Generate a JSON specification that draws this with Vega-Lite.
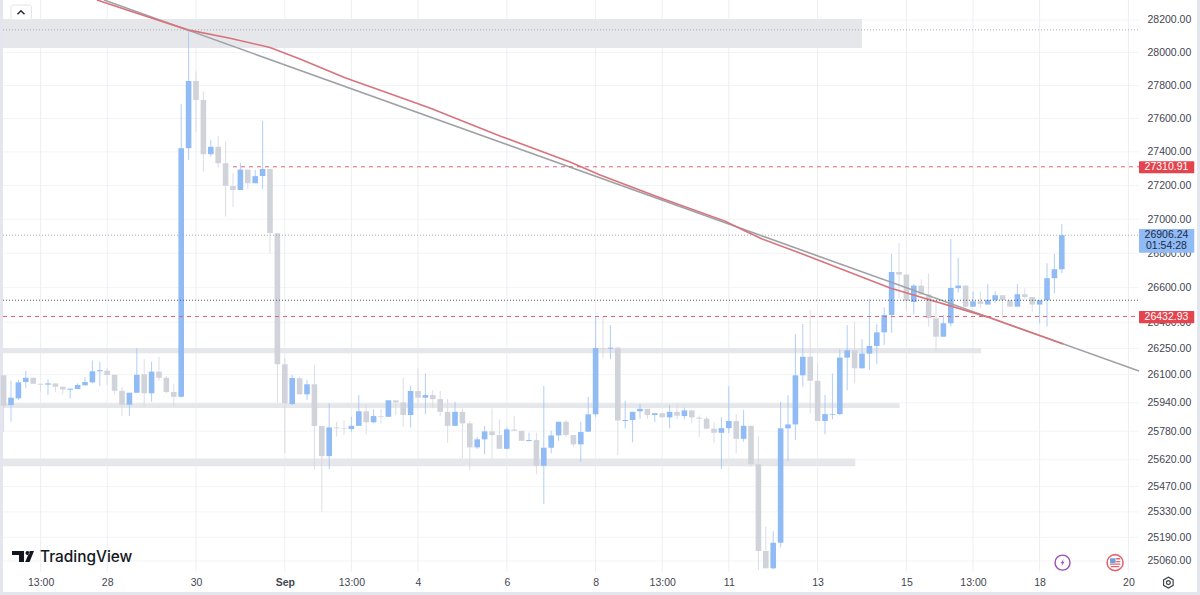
{
  "$schema": "https://vega.github.io/schema/vega-lite/v6.json",
  "width": 1194,
  "height": 592,
  "autosize": "none",
  "padding": {"left": 3, "top": 0, "right": 3, "bottom": 3},
  "background": "#e3e6ee",
  "view": {"fill": "white", "stroke": null},
  "config": {
    "axis": {"labelFont": "Liberation Sans", "labelFontSize": 10.5, "labelColor": "#434651", "grid": false, "domain": false, "ticks": false, "title": null}
  },
  "datasets": {
    "candles": [
      {"bar":0,"open":26096,"close":25923,"high":26096,"low":25777},
      {"bar":1,"open":25927,"close":25969,"high":26064,"low":25833},
      {"bar":2,"open":25965,"close":26056,"high":26069,"low":25955},
      {"bar":3,"open":26058,"close":26082,"high":26121,"low":26025},
      {"bar":4,"open":26082,"close":26048,"high":26082,"low":26048},
      {"bar":5,"open":26048,"close":26043,"high":26048,"low":26003},
      {"bar":6,"open":26043,"close":26050,"high":26073,"low":25984},
      {"bar":7,"open":26050,"close":26031,"high":26050,"low":26003},
      {"bar":8,"open":26031,"close":26016,"high":26031,"low":25988},
      {"bar":9,"open":26014,"close":26020,"high":26020,"low":25963},
      {"bar":10,"open":26018,"close":26041,"high":26050,"low":26018},
      {"bar":11,"open":26039,"close":26058,"high":26088,"low":26039},
      {"bar":12,"open":26056,"close":26119,"high":26180,"low":26050},
      {"bar":13,"open":26119,"close":26125,"high":26174,"low":26035},
      {"bar":14,"open":26122,"close":26098,"high":26136,"low":26041},
      {"bar":15,"open":26099,"close":26008,"high":26099,"low":25988},
      {"bar":16,"open":26008,"close":25929,"high":26031,"low":25867},
      {"bar":17,"open":25929,"close":25997,"high":25997,"low":25865},
      {"bar":18,"open":25997,"close":26099,"high":26251,"low":25997},
      {"bar":19,"open":26102,"close":25994,"high":26189,"low":25917},
      {"bar":20,"open":25994,"close":26117,"high":26174,"low":25946},
      {"bar":21,"open":26117,"close":26082,"high":26202,"low":26065},
      {"bar":22,"open":26082,"close":26001,"high":26092,"low":25994},
      {"bar":23,"open":26001,"close":25974,"high":26045,"low":25917},
      {"bar":24,"open":25974,"close":27422,"high":27688,"low":25969},
      {"bar":25,"open":27422,"close":27827,"high":28139,"low":27352},
      {"bar":26,"open":27827,"close":27712,"high":27884,"low":27521},
      {"bar":27,"open":27712,"close":27386,"high":27763,"low":27282},
      {"bar":28,"open":27386,"close":27430,"high":27472,"low":27371},
      {"bar":29,"open":27430,"close":27332,"high":27496,"low":27306},
      {"bar":30,"open":27332,"close":27198,"high":27461,"low":27015},
      {"bar":31,"open":27196,"close":27173,"high":27276,"low":27072},
      {"bar":32,"open":27173,"close":27294,"high":27332,"low":27173},
      {"bar":33,"open":27294,"close":27213,"high":27294,"low":27179},
      {"bar":34,"open":27213,"close":27255,"high":27292,"low":27213},
      {"bar":35,"open":27256,"close":27298,"high":27586,"low":27179},
      {"bar":36,"open":27298,"close":26919,"high":27298,"low":26800},
      {"bar":37,"open":26917,"close":26159,"high":26917,"low":25938},
      {"bar":38,"open":26159,"close":25937,"high":26195,"low":25657},
      {"bar":39,"open":25933,"close":26081,"high":26098,"low":25927},
      {"bar":40,"open":26079,"close":25988,"high":26088,"low":25988},
      {"bar":41,"open":25988,"close":26045,"high":26069,"low":25955},
      {"bar":42,"open":26045,"close":25809,"high":26155,"low":25566},
      {"bar":43,"open":25809,"close":25640,"high":25809,"low":25331},
      {"bar":44,"open":25640,"close":25801,"high":25937,"low":25566},
      {"bar":45,"open":25801,"close":25796,"high":25832,"low":25752},
      {"bar":46,"open":25797,"close":25794,"high":25841,"low":25758},
      {"bar":47,"open":25792,"close":25810,"high":25861,"low":25777},
      {"bar":48,"open":25810,"close":25892,"high":25984,"low":25810},
      {"bar":49,"open":25892,"close":25830,"high":25933,"low":25762},
      {"bar":50,"open":25830,"close":25865,"high":25903,"low":25824},
      {"bar":51,"open":25865,"close":25861,"high":25905,"low":25824},
      {"bar":52,"open":25861,"close":25954,"high":25954,"low":25861},
      {"bar":53,"open":25954,"close":25942,"high":25954,"low":25871},
      {"bar":54,"open":25942,"close":25871,"high":26082,"low":25804},
      {"bar":55,"open":25871,"close":26007,"high":26037,"low":25801},
      {"bar":56,"open":26007,"close":25969,"high":26136,"low":25908},
      {"bar":57,"open":25969,"close":25984,"high":26107,"low":25876},
      {"bar":58,"open":25984,"close":25961,"high":26012,"low":25908},
      {"bar":59,"open":25961,"close":25889,"high":26007,"low":25865},
      {"bar":60,"open":25889,"close":25810,"high":25961,"low":25715},
      {"bar":61,"open":25810,"close":25889,"high":25946,"low":25810},
      {"bar":62,"open":25889,"close":25824,"high":25908,"low":25627},
      {"bar":63,"open":25824,"close":25689,"high":25837,"low":25562},
      {"bar":64,"open":25689,"close":25734,"high":25749,"low":25680},
      {"bar":65,"open":25734,"close":25779,"high":25809,"low":25651},
      {"bar":66,"open":25779,"close":25758,"high":25908,"low":25627},
      {"bar":67,"open":25758,"close":25681,"high":25847,"low":25681},
      {"bar":68,"open":25681,"close":25790,"high":25801,"low":25678},
      {"bar":69,"open":25790,"close":25782,"high":25867,"low":25782},
      {"bar":70,"open":25782,"close":25726,"high":25782,"low":25726},
      {"bar":71,"open":25724,"close":25730,"high":25771,"low":25724},
      {"bar":72,"open":25730,"close":25586,"high":25771,"low":25538},
      {"bar":73,"open":25586,"close":25687,"high":26035,"low":25373},
      {"bar":74,"open":25687,"close":25756,"high":25782,"low":25655},
      {"bar":75,"open":25756,"close":25833,"high":25833,"low":25726},
      {"bar":76,"open":25833,"close":25758,"high":25843,"low":25749},
      {"bar":77,"open":25758,"close":25706,"high":25758,"low":25692},
      {"bar":78,"open":25706,"close":25775,"high":25833,"low":25608},
      {"bar":79,"open":25777,"close":25875,"high":25974,"low":25777},
      {"bar":80,"open":25875,"close":26252,"high":26432,"low":25858},
      {"bar":81,"open":26252,"close":26248,"high":26432,"low":26193},
      {"bar":82,"open":26248,"close":26254,"high":26384,"low":26188},
      {"bar":83,"open":26254,"close":25840,"high":26260,"low":25646},
      {"bar":84,"open":25837,"close":25843,"high":25951,"low":25796},
      {"bar":85,"open":25843,"close":25889,"high":25889,"low":25717},
      {"bar":86,"open":25892,"close":25906,"high":25933,"low":25850},
      {"bar":87,"open":25906,"close":25871,"high":25906,"low":25850},
      {"bar":88,"open":25871,"close":25881,"high":25881,"low":25832},
      {"bar":89,"open":25881,"close":25858,"high":25881,"low":25858},
      {"bar":90,"open":25858,"close":25889,"high":25927,"low":25796},
      {"bar":91,"open":25889,"close":25867,"high":25937,"low":25847},
      {"bar":92,"open":25865,"close":25897,"high":25912,"low":25847},
      {"bar":93,"open":25897,"close":25858,"high":25897,"low":25824},
      {"bar":94,"open":25856,"close":25850,"high":25869,"low":25747},
      {"bar":95,"open":25850,"close":25794,"high":25861,"low":25794},
      {"bar":96,"open":25794,"close":25771,"high":25830,"low":25712},
      {"bar":97,"open":25771,"close":25797,"high":25858,"low":25569},
      {"bar":98,"open":25797,"close":25837,"high":26033,"low":25768},
      {"bar":99,"open":25837,"close":25737,"high":25876,"low":25655},
      {"bar":100,"open":25737,"close":25810,"high":25899,"low":25721},
      {"bar":101,"open":25810,"close":25595,"high":25810,"low":25580},
      {"bar":102,"open":25595,"close":25115,"high":25752,"low":25011},
      {"bar":103,"open":25115,"close":25020,"high":25248,"low":25020},
      {"bar":104,"open":25020,"close":25160,"high":25224,"low":25015},
      {"bar":105,"open":25160,"close":25796,"high":25946,"low":25135},
      {"bar":106,"open":25796,"close":25818,"high":25984,"low":25612},
      {"bar":107,"open":25818,"close":26096,"high":26331,"low":25730},
      {"bar":108,"open":26096,"close":26202,"high":26390,"low":26031},
      {"bar":109,"open":26202,"close":26065,"high":26471,"low":25880},
      {"bar":110,"open":26065,"close":25837,"high":26165,"low":25837},
      {"bar":111,"open":25837,"close":25876,"high":25984,"low":25762},
      {"bar":112,"open":25871,"close":25875,"high":26107,"low":25847},
      {"bar":113,"open":25876,"close":26197,"high":26245,"low":25871},
      {"bar":114,"open":26197,"close":26239,"high":26383,"low":26012},
      {"bar":115,"open":26239,"close":26136,"high":26403,"low":26050},
      {"bar":116,"open":26136,"close":26220,"high":26302,"low":26136},
      {"bar":117,"open":26220,"close":26264,"high":26535,"low":26126},
      {"bar":118,"open":26264,"close":26342,"high":26388,"low":26161},
      {"bar":119,"open":26342,"close":26442,"high":26486,"low":26270},
      {"bar":120,"open":26442,"close":26691,"high":26796,"low":26340},
      {"bar":121,"open":26691,"close":26676,"high":26859,"low":26539},
      {"bar":122,"open":26676,"close":26523,"high":26676,"low":26467},
      {"bar":123,"open":26517,"close":26612,"high":26620,"low":26446},
      {"bar":124,"open":26612,"close":26560,"high":26649,"low":26560},
      {"bar":125,"open":26560,"close":26423,"high":26683,"low":26375},
      {"bar":126,"open":26423,"close":26317,"high":26529,"low":26231},
      {"bar":127,"open":26317,"close":26394,"high":26442,"low":26317},
      {"bar":128,"open":26394,"close":26598,"high":26884,"low":26375},
      {"bar":129,"open":26597,"close":26612,"high":26774,"low":26571},
      {"bar":130,"open":26612,"close":26490,"high":26612,"low":26486},
      {"bar":131,"open":26490,"close":26521,"high":26577,"low":26490},
      {"bar":132,"open":26521,"close":26506,"high":26577,"low":26486},
      {"bar":133,"open":26502,"close":26529,"high":26621,"low":26502},
      {"bar":134,"open":26527,"close":26556,"high":26579,"low":26510},
      {"bar":135,"open":26556,"close":26527,"high":26556,"low":26423},
      {"bar":136,"open":26527,"close":26490,"high":26527,"low":26490},
      {"bar":137,"open":26490,"close":26562,"high":26621,"low":26490},
      {"bar":138,"open":26562,"close":26546,"high":26596,"low":26533},
      {"bar":139,"open":26546,"close":26502,"high":26546,"low":26461},
      {"bar":140,"open":26502,"close":26527,"high":26527,"low":26394},
      {"bar":141,"open":26527,"close":26655,"high":26742,"low":26375},
      {"bar":142,"open":26655,"close":26707,"high":26796,"low":26568},
      {"bar":143,"open":26707,"close":26906.24,"high":26972,"low":26684}
    ],
    "gridH": [
      {"bar":-0.08,"bar2":153.43,"price":28200},{"bar":-0.08,"bar2":153.43,"price":28000},
      {"bar":-0.08,"bar2":153.43,"price":27800},{"bar":-0.08,"bar2":153.43,"price":27600},
      {"bar":-0.08,"bar2":153.43,"price":27400},{"bar":-0.08,"bar2":153.43,"price":27200},
      {"bar":-0.08,"bar2":153.43,"price":27000},{"bar":-0.08,"bar2":153.43,"price":26800},
      {"bar":-0.08,"bar2":153.43,"price":26600},{"bar":-0.08,"bar2":153.43,"price":26400},
      {"bar":-0.08,"bar2":153.43,"price":26250},{"bar":-0.08,"bar2":153.43,"price":26100},
      {"bar":-0.08,"bar2":153.43,"price":25940},{"bar":-0.08,"bar2":153.43,"price":25780},
      {"bar":-0.08,"bar2":153.43,"price":25620},{"bar":-0.08,"bar2":153.43,"price":25470},
      {"bar":-0.08,"bar2":153.43,"price":25330},{"bar":-0.08,"bar2":153.43,"price":25190},
      {"bar":-0.08,"bar2":153.43,"price":25060}
    ],
    "gridV": [
      {"bar":5,"price":28323,"price2":25002},{"bar":14,"price":28323,"price2":25002},
      {"bar":26,"price":28323,"price2":25002},{"bar":38,"price":28323,"price2":25002},
      {"bar":47,"price":28323,"price2":25002},{"bar":56,"price":28323,"price2":25002},
      {"bar":68,"price":28323,"price2":25002},{"bar":80,"price":28323,"price2":25002},
      {"bar":89,"price":28323,"price2":25002},{"bar":98,"price":28323,"price2":25002},
      {"bar":110,"price":28323,"price2":25002},{"bar":122,"price":28323,"price2":25002},
      {"bar":131,"price":28323,"price2":25002},{"bar":140,"price":28323,"price2":25002},
      {"bar":152,"price":28323,"price2":25002}
    ],
    "zones": [
      {"bar":-0.08,"bar2":116,"price":28206,"price2":28028},
      {"bar":-0.08,"bar2":132.1,"price":26252,"price2":26222},
      {"bar":-0.08,"bar2":121.1,"price":25937,"price2":25910},
      {"bar":-0.08,"bar2":115.1,"price":25627,"price2":25584}
    ],
    "trendGray": [
      {"bar":13.57,"price":28323},
      {"bar":153.43,"price":26120}
    ],
    "trendRed": [
      {"bar":12.62,"price":28323},{"bar":17.08,"price":28255},{"bar":24.92,"price":28139},
      {"bar":30.6,"price":28088},{"bar":36,"price":28031},{"bar":40.05,"price":27961},
      {"bar":46.14,"price":27846},{"bar":52.22,"price":27749},{"bar":57.6,"price":27664},
      {"bar":67.08,"price":27495},{"bar":76.54,"price":27340},{"bar":80.6,"price":27262},
      {"bar":88.7,"price":27127},{"bar":97.5,"price":26989},{"bar":100.2,"price":26931},
      {"bar":102.5,"price":26884},{"bar":107.6,"price":26802},{"bar":119.8,"price":26598},
      {"bar":132.9,"price":26431},{"bar":143.2,"price":26275}
    ]
  },
  "encoding": {
    "x": {
      "field": "bar",
      "type": "quantitative",
      "scale": {"domain": [-0.081, 161.27], "nice": false, "zero": false, "padding": 0},
      "axis": {
        "orient": "bottom",
        "offset": -21,
        "labelPadding": 6,
        "labelOverlap": false,
        "labelFlush": false,
        "values": [5,14,26,38,47,56,68,80,89,98,110,122,131,140,152],
        "labelExpr": "{'5':'13:00','14':'28','26':'30','38':'Sep','47':'13:00','56':'4','68':'6','80':'8','89':'13:00','98':'11','110':'13','122':'15','131':'13:00','140':'18','152':'20'}[datum.value]",
        "labelFontWeight": {"condition": {"test": "datum.value == 38", "value": "bold"}, "value": "normal"}
      }
    },
    "y": {
      "field": "price",
      "type": "quantitative",
      "scale": {"type": "log", "domain": [24891, 28323], "nice": false, "zero": false},
      "axis": {
        "orient": "right",
        "offset": -58,
        "labelPadding": 8,
        "labelOverlap": false,
        "format": ".2f",
        "values": [28200,28000,27800,27600,27400,27200,27000,26800,26600,26400,26250,26100,25940,25780,25620,25470,25330,25190,25060]
      }
    }
  },
  "layer": [
    {
      "data": {"name": "gridH"},
      "mark": {"type": "rule", "color": "#f3f4f7", "strokeWidth": 1},
      "encoding": {"x2": {"field": "bar2"}}
    },
    {
      "data": {"name": "gridV"},
      "mark": {"type": "rule", "color": "#eceef2", "strokeWidth": 1},
      "encoding": {"y2": {"field": "price2"}}
    },
    {
      "data": {"name": "zones"},
      "mark": {"type": "rect", "color": "#e6e7eb"},
      "encoding": {"x2": {"field": "bar2"}, "y2": {"field": "price2"}}
    },
    {
      "data": {"name": "candles"},
      "mark": {"type": "rule", "strokeWidth": 1, "opacity": 0.85},
      "encoding": {
        "y": {"field": "high", "type": "quantitative", "scale": {"type": "log", "domain": [24891, 28323], "nice": false, "zero": false}},
        "y2": {"field": "low"},
        "color": {"condition": {"test": "datum.close >= datum.open", "value": "#a3c5f5"}, "value": "#d6d8df"}
      }
    },
    {
      "data": {"name": "candles"},
      "mark": {"type": "bar", "size": 5.6},
      "encoding": {
        "y": {"field": "open", "type": "quantitative", "scale": {"type": "log", "domain": [24891, 28323], "nice": false, "zero": false}},
        "y2": {"field": "close"},
        "color": {"condition": {"test": "datum.close >= datum.open", "value": "#90bbf4"}, "value": "#d1d3da"}
      }
    },
    {
      "data": {"name": "trendGray"},
      "mark": {"type": "line", "color": "#9fa1a6", "strokeWidth": 1.6}
    },
    {
      "data": {"name": "trendRed"},
      "mark": {"type": "line", "color": "#d8737d", "strokeWidth": 1.6}
    },
    {
      "data": {"values": [{"bar": -0.08, "bar2": 153.43, "price": 26527}]},
      "mark": {"type": "rule", "color": "#55585f", "strokeWidth": 1, "strokeDash": [1, 2]},
      "encoding": {"x2": {"field": "bar2"}}
    },
    {
      "data": {"values": [{"bar": -0.08, "bar2": 153.43, "price": 28139}, {"bar": -0.08, "bar2": 153.43, "price": 26906.24}]},
      "mark": {"type": "rule", "color": "#a9acb3", "strokeWidth": 1, "strokeDash": [1, 2]},
      "encoding": {"x2": {"field": "bar2"}}
    },
    {
      "data": {"values": [{"bar": 31, "bar2": 153.43, "price": 27310.91}, {"bar": -0.08, "bar2": 153.43, "price": 26432.93}]},
      "mark": {"type": "rule", "color": "#e2656e", "strokeWidth": 1, "strokeDash": [4, 4]},
      "encoding": {"x2": {"field": "bar2"}}
    },
    {
      "data": {"values": [{"bar": 153.43, "bar2": 160.9, "price": 27344, "price2": 27273}, {"bar": 153.43, "bar2": 160.9, "price": 26465, "price2": 26394}]},
      "mark": {"type": "rect", "color": "#e4444e", "cornerRadius": 1},
      "encoding": {"x2": {"field": "bar2"}, "y2": {"field": "price2"}}
    },
    {
      "data": {"values": [{"bar": 153.43, "bar2": 160.9, "price": 26942, "price2": 26804}]},
      "mark": {"type": "rect", "color": "#90bbf4", "cornerRadius": 1},
      "encoding": {"x2": {"field": "bar2"}, "y2": {"field": "price2"}}
    },
    {
      "data": {"values": [{"bar": 157.14, "price": 27310.91, "label": "27310.91"}, {"bar": 157.14, "price": 26432.93, "label": "26432.93"}]},
      "mark": {"type": "text", "font": "Liberation Sans", "fontSize": 10.5, "color": "white", "baseline": "middle"},
      "encoding": {"text": {"field": "label"}}
    },
    {
      "data": {"values": [{"bar": 157.14, "price": 26906.24, "label": "26906.24"}, {"bar": 157.14, "price": 26840, "label": "01:54:28"}]},
      "mark": {"type": "text", "font": "Liberation Sans", "fontSize": 10.5, "color": "#1c2a4a", "baseline": "middle"},
      "encoding": {"text": {"field": "label"}}
    },
    {
      "data": {"values": [{"bar": 1, "bar2": 3.77, "price": 28292, "price2": 28200}]},
      "mark": {"type": "rect", "fill": "white", "stroke": "#e3e5ea", "cornerRadius": 2},
      "encoding": {"x2": {"field": "bar2"}, "y2": {"field": "price2"}}
    },
    {
      "data": {"values": [{"bar": 2.35, "price": 28246}]},
      "mark": {"type": "point", "shape": "M-1,.5L0,-.5L1,.5", "size": 49, "filled": false, "stroke": "#2a2e39", "strokeWidth": 1.5, "opacity": 1}
    },
    {
      "data": {"values": [{"bar": 2.62, "price": 25085}]},
      "mark": {"type": "point", "shape": "M-1,-.5L.09,-.5L.09,.5L-.36,.5L-.36,-.14L-1,-.14Z M.23,-.32A.18,.18 0 1 0 .59,-.32A.18,.18 0 1 0 .23,-.32Z M.62,-.5L1,-.5L.6,.5L.2,.5Z", "size": 484, "filled": true, "fill": "#131722", "strokeWidth": 0, "opacity": 1}
    },
    {
      "data": {"values": [{"bar": 4.92, "price": 25082, "label": "TradingView"}]},
      "mark": {"type": "text", "font": "Inter", "fontSize": 15.4, "fontWeight": 500, "color": "#131722", "align": "left", "baseline": "middle"},
      "encoding": {"text": {"field": "label"}}
    },
    {
      "data": {"values": [{"bar": 143.1, "price": 25051}]},
      "mark": {"type": "point", "shape": "circle", "size": 225, "filled": false, "fill": "white", "stroke": "#9b4fb5", "strokeWidth": 1.4, "opacity": 1}
    },
    {
      "data": {"values": [{"bar": 143.1, "price": 25051}]},
      "mark": {"type": "point", "shape": "M.3,-.9L-.5,.15L-.05,.15L-.3,.9L.5,-.2L.05,-.2Z", "size": 64, "filled": true, "fill": "#9b4fb5", "strokeWidth": 0, "opacity": 1}
    },
    {
      "data": {"values": [{"bar": 150.2, "price": 25051}]},
      "mark": {"type": "point", "shape": "circle", "size": 256, "filled": false, "fill": "white", "stroke": "#e2656e", "strokeWidth": 1.6, "opacity": 1}
    },
    {
      "data": {"values": [{"bar": 150.2, "price": 25051}]},
      "mark": {"type": "point", "shape": "M-.75,.12H.75V.3H-.75Z M-.6,.48H.6V.66H-.6Z M.15,-.65H.7V-.45H.15Z M.15,-.25H.75V-.05H.15Z", "size": 196, "filled": true, "fill": "#e2656e", "strokeWidth": 0, "opacity": 1}
    },
    {
      "data": {"values": [{"bar": 150.2, "price": 25051}]},
      "mark": {"type": "point", "shape": "M-.72,-.62H.08V.05H-.72Z", "size": 196, "filled": true, "fill": "#6f9fe0", "strokeWidth": 0, "opacity": 1}
    },
    {
      "data": {"values": [{"bar": 157.4, "price": 24942}]},
      "mark": {"type": "point", "shape": "M0,-1L.87,-.5L.87,.5L0,1L-.87,.5L-.87,-.5Z M.35,0A.35,.35 0 1 1 -.35,0A.35,.35 0 1 1 .35,0Z", "size": 121, "filled": false, "stroke": "#434651", "strokeWidth": 1.2, "opacity": 1}
    }
  ]
}
